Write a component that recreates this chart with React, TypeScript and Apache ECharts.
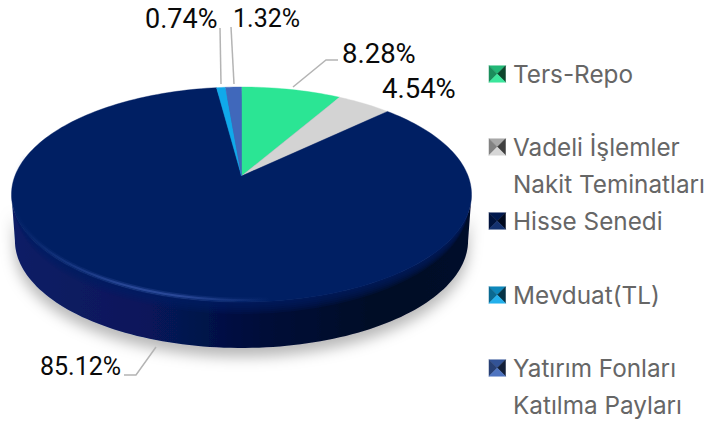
import React, { useEffect, useRef } from "react";
import * as echarts from "echarts";

const categories = ["Ters-Repo", "Vadeli İşlemler\nNakit Teminatları", "Hisse Senedi", "Mevduat(TL)", "Yatırım Fonları\nKatılma Payları"];
const values = [8.28, 4.54, 85.12, 0.74, 1.32];
const valueLabels = ["8.28%", "4.54%", "85.12%", "0.74%", "1.32%"];
const colors = ["#2be594", "#d3d3d3", "#001f63", "#10a9ea", "#4068bb"];

const labelAt = [[342, 53], [382, 88], [40, 366], [145, 19], [233, 18]];
const labelSize = [27.5, 27.5, 25, 27, 25];
const leaders = [
  [[293, 87], [326, 60], [338, 60]],
  null,
  [[156, 347], [136, 375], [124, 375]],
  [[221, 84], [220, 28]],
  [[234, 84], [231, 27]],
];
const legendY = [74, 147, 221, 295, 368];

const CX = 241.5, CY = 176, A = 104.3, B = 226.6, K = 0.172;

function project(deg: number, dy = 0): number[] {
  const t = (deg * Math.PI) / 180;
  const u = Math.sin(t), v = Math.cos(t);
  const d = 1 + K * v;
  return [CX + (B * u) / d, CY - (A * v) / d + dy];
}
function arc(from: number, to: number, dy = 0): number[][] {
  const pts: number[][] = [];
  const n = Math.max(2, Math.ceil(Math.abs(to - from) / 1.5));
  for (let i = 0; i <= n; i++) pts.push(project(from + ((to - from) * i) / n, dy));
  return pts;
}
function shade(hex: string, f: number): string {
  const c = [1, 3, 5].map((i) => parseInt(hex.slice(i, i + 2), 16));
  const r = c.map((x) => Math.round(f <= 1 ? x * f : x + (255 - x) * (f - 1)));
  return `rgb(${r[0]},${r[1]},${r[2]})`;
}
const hGrad = (stops: [number, string][]) => ({
  type: "linear", x: 0, y: 0, x2: 1, y2: 0,
  colorStops: stops.map(([offset, color]) => ({ offset, color })),
});

function wallShape() {
  const top = arc(100, 260);
  const bottom = arc(260, 100, 46).map(([x, y]) => [CX + (x - CX) * 0.985, y]);
  return [...top, ...bottom];
}

function buildGraphic() {
  const els: any[] = [];
  const full = arc(0, 360);
  els.push({
    type: "polygon", z: 1, shape: { points: wallShape() },
    style: {
      fill: hGrad([[0, "#0a1d66"], [0.3, "#07175a"], [0.55, "#030d38"], [0.8, "#020a26"], [1, "#020a2a"]]),
      shadowBlur: 14, shadowColor: "rgba(0,0,0,0.28)", shadowOffsetY: 9, shadowOffsetX: 0,
    },
  });
  // soft transition between the wall and the top face, narrowed so it stays inside the wall
  [12, 10, 8, 6, 4, 2].forEach((d) => {
    els.push({
      type: "polygon", z: 2,
      shape: { points: full.map(([x, y]) => [CX + (x - CX) * (1 - d * 0.0012), y + d]) },
      style: { fill: "rgba(0,31,99,0.2)" },
    });
  });
  const rim = arc(280, 140, 0);
  const glow = (a: string, o: string) => hGrad([[0, o], [0.3, a], [0.42, a], [0.65, o], [1, o]]);
  els.push({
    type: "polyline", z: 4, shape: { points: rim.map(([x, y]) => [x, y - 2]) },
    style: { fill: "none", lineWidth: 5, stroke: glow("rgba(70,100,190,0.22)", "rgba(70,100,190,0)") },
  });
  els.push({
    type: "polyline", z: 4, shape: { points: rim.map(([x, y]) => [x, y - 2]) },
    style: { fill: "none", lineWidth: 2, stroke: glow("rgba(80,110,200,0.4)", "rgba(80,110,200,0)") },
  });
  leaders.forEach((l) => {
    if (l) els.push({ type: "polyline", z: 5, shape: { points: l }, style: { fill: "none", stroke: "#b4b4b4", lineWidth: 1.5 } });
  });
  valueLabels.forEach((t, i) => {
    els.push({
      type: "text", z: 6, x: labelAt[i][0], y: labelAt[i][1],
      style: { text: t, fill: "#0a0a0a", font: `400 ${labelSize[i]}px Roboto`, verticalAlign: "middle" },
    });
  });
  categories.forEach((name, i) => {
    const y = legendY[i], x0 = 489, s = 16.5, c = colors[i];
    const tl = [x0, y - s / 2], tr = [x0 + s, y - s / 2], bl = [x0, y + s / 2], br = [x0 + s, y + s / 2];
    const mid = [x0 + s / 2, y];
    const tri = [
      { p: [tl, tr, mid], f: 0.8 },
      { p: [tl, bl, mid], f: 0.62 },
      { p: [tr, br, mid], f: 0.3 },
      { p: [bl, br, mid], f: 1.08 },
    ];
    tri.forEach(({ p, f }) => {
      const col = shade(c, f);
      els.push({ type: "polygon", z: 6, shape: { points: p }, style: { fill: col, stroke: col, lineWidth: 0.5 } });
    });
    name.split("\n").forEach((line, k) => {
      els.push({
        type: "text", z: 6, x: 513, y: y + k * 37,
        style: { text: line, fill: "#666666", font: "400 24.3px Inter", verticalAlign: "middle" },
      });
    });
  });
  return els;
}

export default function App() {
  const ref = useRef<HTMLDivElement>(null);
  useEffect(() => {
    document.body.style.margin = "0";
    const chart = echarts.init(ref.current!, undefined, { renderer: "svg" });
    const total = values.reduce((a, b) => a + b, 0);
    const starts: number[] = [];
    values.reduce((acc, v, i) => { starts[i] = acc; return acc + v; }, 0);
    chart.setOption({
      animation: false,
      backgroundColor: "#ffffff",
      graphic: { elements: buildGraphic() },
      series: [
        {
          type: "custom",
          coordinateSystem: "none",
          z: 3,
          silent: true,
          data: values.map((v, i) => ({ name: categories[i], value: v })),
          renderItem: (params: any, api: any) => {
            const i = params.dataIndex;
            const from = (starts[i] / total) * 360;
            const to = ((starts[i] + api.value(0)) / total) * 360;
            return {
              type: "polygon",
              shape: { points: [[CX, CY], ...arc(from, to)] },
              style: { fill: colors[i], stroke: colors[i], lineWidth: 0.4 },
            };
          },
        },
      ],
    });
    return () => chart.dispose();
  }, []);
  return <div ref={ref} style={{ width: 709, height: 424, position: "absolute", left: 0, top: 0 }} />;
}
